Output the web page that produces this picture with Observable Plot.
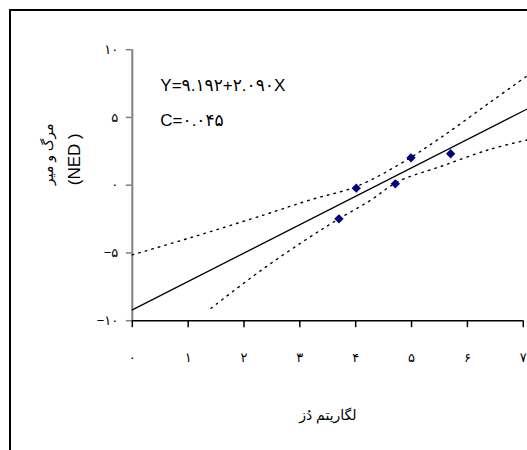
<!DOCTYPE html>
<html>
<head>
<meta charset="utf-8">
<script src="https://cdn.jsdelivr.net/npm/d3@7"></script>
<script src="https://cdn.jsdelivr.net/npm/@observablehq/plot@0.6"></script>
<style>
  html, body { margin: 0; padding: 0; background: white; overflow: hidden; }
  #wrap { position: relative; width: 527px; height: 450px; overflow: hidden; }
  #chart { position: absolute; left: 0; top: 0; }
  #border { position: absolute; left: 9px; top: 9px; width: 700px; height: 700px;
            border-left: 2px solid #000; border-top: 2px solid #000; pointer-events: none; }
</style>
</head>
<body>
<div id="wrap"><div id="chart"></div><div id="border"></div></div>
<script>
// observed data points (log dose, mortality NED)
const pointX = [3.70, 4.01, 4.71, 4.99, 5.70];
const pointY = [-2.48, -0.22, 0.10, 2.02, 2.32];

// fitted regression line, read at its ends
const fitX = [0, 7.08];
const fitY = [-9.2, 5.64];

// upper confidence curve
const upperX = [0, 1.07, 2.38, 3.19, 4.01, 4.77, 5.52, 6.41, 7.08];
const upperY = [-5.14, -3.84, -2.16, -1.08, -0.1, 1.51, 3.50, 6.13, 8.10];

// lower confidence curve
const lowerX = [1.41, 2.30, 3.16, 3.70, 4.26, 4.75, 5.52, 6.41, 7.08];
const lowerY = [-9.08, -6.30, -3.88, -2.48, -1.13, 0.25, 1.38, 2.65, 3.35];

// ticks and labels
const xTicks = [0, 1, 2, 3, 4, 5, 6, 7];
const xTickLabels = ["۰", "۱", "۲", "۳", "۴", "۵", "۶", "۷"];
const yTicks = [-10, -5, 0, 5, 10];
const yTickLabels = ["−۱۰", "−۵", "۰", "۵", "۱۰"];

const equationText = "Y=۹.۱۹۲+۲.۰۹۰X";
const corrText = "C=۰.۰۴۵";
const xTitle = "لگاریتم دُز";
const yTitle1 = "مرگ و میر";
const yTitle2 = "(NED )";

const pts = pointX.map((x, i) => ({x, y: pointY[i]}));
const fit = fitX.map((x, i) => ({x, y: fitY[i]}));
const up = upperX.map((x, i) => ({x, y: upperY[i]}));
const lo = lowerX.map((x, i) => ({x, y: lowerY[i]}));

const chart = Plot.plot({
  width: 527,
  height: 450,
  marginTop: 49.2,
  marginBottom: 129.8,
  marginLeft: 131.8,
  marginRight: 0,
  style: {fontFamily: "'Liberation Sans', 'DejaVu Sans', sans-serif", background: "white", color: "black"},
  x: {domain: [0, 8], range: [131.8, 578.6]},
  y: {domain: [-10, 10], range: [320.2, 49.2]},
  marks: [
    Plot.axisY({ticks: yTicks, tickFormat: d => yTickLabels[yTicks.indexOf(d)], tickSize: 6, tickPadding: 8,
                stroke: "#808080", fill: "black", strokeWidth: 1.5, fontSize: 13, label: null}),
    Plot.axisX({ticks: xTicks, tickFormat: d => xTickLabels[xTicks.indexOf(d)], tickSize: 7, tickPadding: 25,
                stroke: "black", fill: "black", strokeWidth: 1.5, fontSize: 13, label: null}),
    Plot.ruleX([0], {y1: -10, y2: 10, stroke: "#808080", strokeWidth: 2}),
    Plot.ruleY([-10], {x1: 0, x2: 7, stroke: "black", strokeWidth: 1.5}),
    Plot.line(up, {x: "x", y: "y", curve: "catmull-rom", stroke: "black", strokeWidth: 1.4, strokeDasharray: "1.6,5.2"}),
    Plot.line(lo, {x: "x", y: "y", curve: "catmull-rom", stroke: "black", strokeWidth: 1.4, strokeDasharray: "1.6,5.2"}),
    Plot.line(fit, {x: "x", y: "y", stroke: "black", strokeWidth: 1.3}),
    Plot.dot(pts, {x: "x", y: "y", symbol: "diamond2", r: 4.2, fill: "#000080", stroke: "none"}),
    Plot.text([equationText], {frameAnchor: "top-left", dx: 28, dy: 36, textAnchor: "start", lineAnchor: "middle", fontSize: 17, fill: "black"}),
    Plot.text([corrText], {frameAnchor: "top-left", dx: 28, dy: 71, textAnchor: "start", lineAnchor: "middle", fontSize: 17, fill: "black"}),
    Plot.text([yTitle1], {frameAnchor: "left", dx: -84, rotate: -90, fontSize: 14, lineAnchor: "middle", fill: "black"}),
    Plot.text([yTitle2], {frameAnchor: "left", dx: -58, rotate: -90, fontSize: 17, lineAnchor: "middle", fill: "black"}),
    Plot.text([xTitle], {frameAnchor: "bottom", dx: -2, dy: 95, fontSize: 14, lineAnchor: "middle", fill: "black"})
  ]
});
document.getElementById("chart").appendChild(chart);
</script>
</body>
</html>
